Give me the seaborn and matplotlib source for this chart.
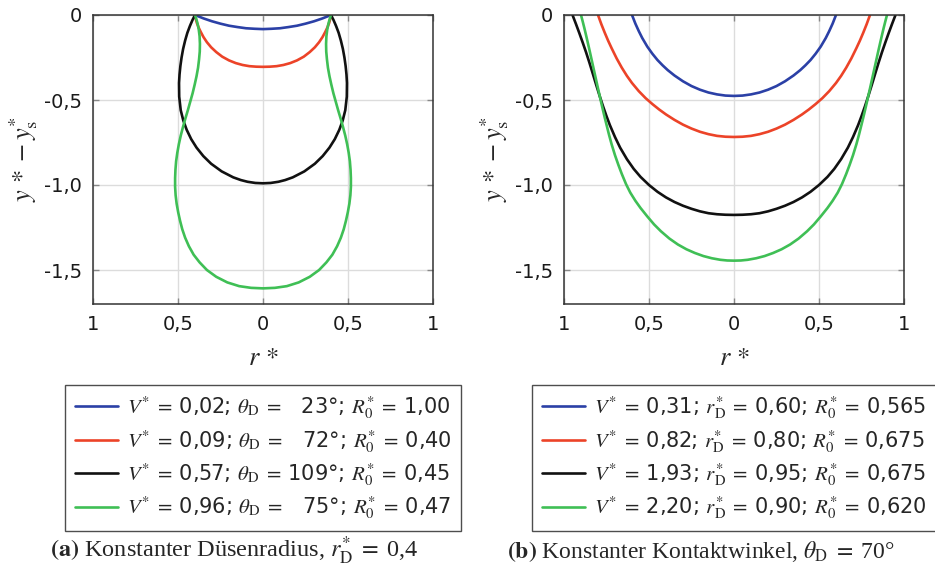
import numpy as np
import pandas as pd
import matplotlib
matplotlib.use('Agg')
import matplotlib.pyplot as plt
import seaborn as sns

sns.set_style('white')
plt.rcParams['mathtext.fontset'] = 'stix'
plt.rcParams['font.family'] = ['DejaVu Sans']

# half profiles (rim -> apex); the drops are axisymmetric
# (a) constant nozzle radius r_D = 0.4
a_blue_r = [-0.40, -0.35, -0.30, -0.25, -0.20, -0.15, -0.10, -0.05, 0.0]
a_blue_y = [0.0, -0.020, -0.037, -0.051, -0.063, -0.071, -0.078, -0.081, -0.083]
a_red_r = [-0.40, -0.395, -0.388, -0.378, -0.366, -0.35, -0.33, -0.305, -0.275, -0.24,
           -0.20, -0.16, -0.12, -0.08, -0.04, 0.0]
a_red_y = [0.0, -0.025, -0.05, -0.075, -0.10, -0.13, -0.16, -0.19, -0.218, -0.245,
           -0.267, -0.283, -0.294, -0.301, -0.304, -0.305]
a_black_r = [-0.40, -0.415, -0.43, -0.445, -0.458, -0.47, -0.479, -0.486, -0.491, -0.494,
             -0.493, -0.484, -0.469, -0.449, -0.4225, -0.391, -0.351, -0.305, -0.243,
             -0.175, -0.13, -0.091, -0.045, 0.0]
a_black_y = [0.0, -0.03, -0.065, -0.105, -0.15, -0.20, -0.25, -0.30, -0.35, -0.40,
             -0.48, -0.56, -0.62, -0.675, -0.73, -0.78, -0.83, -0.875, -0.92,
             -0.955, -0.971, -0.981, -0.988, -0.99]
a_green_r = [-0.40, -0.392, -0.385, -0.378, -0.373, -0.371, -0.372, -0.376, -0.382, -0.391,
             -0.402, -0.414, -0.428, -0.442, -0.457, -0.471, -0.484, -0.495, -0.504, -0.511,
             -0.515, -0.517, -0.517, -0.514, -0.508, -0.499, -0.488, -0.475, -0.458, -0.436,
             -0.408, -0.373, -0.33, -0.275, -0.21, -0.14, -0.07, 0.0]
a_green_y = [0.0, -0.025, -0.05, -0.085, -0.125, -0.17, -0.215, -0.26, -0.31, -0.36,
             -0.41, -0.46, -0.51, -0.56, -0.61, -0.66, -0.71, -0.76, -0.81, -0.86,
             -0.91, -0.96, -1.01, -1.06, -1.11, -1.16, -1.21, -1.26, -1.31, -1.36,
             -1.41, -1.455, -1.50, -1.54, -1.573, -1.595, -1.605, -1.608]

# (b) constant contact angle theta_D = 70 deg
b_blue_r = [-0.60, -0.58, -0.56, -0.54, -0.51, -0.48, -0.45, -0.42, -0.39, -0.35, -0.30,
            -0.25, -0.20, -0.15, -0.10, -0.05, 0.0]
b_blue_y = [0.0, -0.051, -0.095, -0.135, -0.186, -0.228, -0.265, -0.296, -0.324, -0.356, -0.39,
            -0.418, -0.4395, -0.456, -0.467, -0.474, -0.476]
b_red_r = [-0.80, -0.78, -0.76, -0.74, -0.72, -0.69, -0.66, -0.63, -0.60, -0.56, -0.52,
           -0.48, -0.44, -0.40, -0.35, -0.30, -0.25, -0.20, -0.15, -0.10, -0.05, 0.0]
b_red_y = [0.0, -0.055, -0.105, -0.152, -0.195, -0.256, -0.310, -0.358, -0.40, -0.448, -0.489,
           -0.524, -0.556, -0.585, -0.617, -0.645, -0.668, -0.687, -0.701, -0.711, -0.716, -0.7175]
b_black_r = [-0.95, -0.93, -0.91, -0.89, -0.87, -0.85, -0.83, -0.81, -0.79, -0.77, -0.75,
             -0.73, -0.70, -0.67, -0.63, -0.59, -0.55, -0.50, -0.45, -0.40, -0.35, -0.30,
             -0.25, -0.20, -0.15, -0.10, -0.05, 0.0]
b_black_y = [0.0, -0.052, -0.106, -0.162, -0.22, -0.282, -0.347, -0.413, -0.477, -0.538, -0.595,
             -0.648, -0.718, -0.78, -0.848, -0.905, -0.952, -1.0, -1.04, -1.073, -1.10, -1.122,
             -1.14, -1.155, -1.166, -1.172, -1.175, -1.176]
b_green_r = [-0.90, -0.89, -0.88, -0.87, -0.86, -0.85, -0.84, -0.83, -0.82, -0.81, -0.80,
             -0.79, -0.78, -0.77, -0.76, -0.75, -0.735, -0.72, -0.70, -0.68, -0.66, -0.635,
             -0.61, -0.58, -0.55, -0.51, -0.47, -0.43, -0.38, -0.33, -0.28, -0.23, -0.18,
             -0.13, -0.08, -0.04, 0.0]
b_green_y = [0.0, -0.038, -0.078, -0.12, -0.163, -0.207, -0.252, -0.297, -0.342, -0.387, -0.432,
             -0.476, -0.52, -0.563, -0.605, -0.645, -0.705, -0.76, -0.825, -0.882, -0.935, -0.995,
             -1.045, -1.093, -1.135, -1.185, -1.232, -1.272, -1.315, -1.35, -1.378, -1.40, -1.418,
             -1.431, -1.44, -1.444, -1.445]

fs = '\u2007'  # figure space, same width as a digit
eq = r'\;=\;'
labels_a = [rf'$V^{{*}}{eq}$0,02; $\theta_{{\mathrm{{D}}}}{eq}${fs}23°; $R_{{0}}^{{*}}{eq}$1,00',
            rf'$V^{{*}}{eq}$0,09; $\theta_{{\mathrm{{D}}}}{eq}${fs}72°; $R_{{0}}^{{*}}{eq}$0,40',
            rf'$V^{{*}}{eq}$0,57; $\theta_{{\mathrm{{D}}}}{eq}$109°; $R_{{0}}^{{*}}{eq}$0,45',
            rf'$V^{{*}}{eq}$0,96; $\theta_{{\mathrm{{D}}}}{eq}${fs}75°; $R_{{0}}^{{*}}{eq}$0,47']
labels_b = [rf'$V^{{*}}{eq}$0,31; $r_{{\mathrm{{D}}}}^{{*}}{eq}$0,60; $R_{{0}}^{{*}}{eq}$0,565',
            rf'$V^{{*}}{eq}$0,82; $r_{{\mathrm{{D}}}}^{{*}}{eq}$0,80; $R_{{0}}^{{*}}{eq}$0,675',
            rf'$V^{{*}}{eq}$1,93; $r_{{\mathrm{{D}}}}^{{*}}{eq}$0,95; $R_{{0}}^{{*}}{eq}$0,675',
            rf'$V^{{*}}{eq}$2,20; $r_{{\mathrm{{D}}}}^{{*}}{eq}$0,90; $R_{{0}}^{{*}}{eq}$0,620']
colors = ['#2b40a6', '#ec4328', '#111111', '#3fbf55']

xticks = [-1, -0.5, 0, 0.5, 1]
xticklabels = ['1', '0,5', '0', '0,5', '1']
yticks = [0, -0.5, -1.0, -1.5]
yticklabels = ['0', '-0,5', '-1,0', '-1,5']


def full_profile(r_half, y_half):
    # mirror the half profile about r = 0
    r_half = np.asarray(r_half)
    y_half = np.asarray(y_half)
    r = np.concatenate([r_half, -r_half[::-1][1:]])
    y = np.concatenate([y_half, y_half[::-1][1:]])
    return r, y


panels = {
    'a': [(a_blue_r, a_blue_y), (a_red_r, a_red_y), (a_black_r, a_black_y), (a_green_r, a_green_y)],
    'b': [(b_blue_r, b_blue_y), (b_red_r, b_red_y), (b_black_r, b_black_y), (b_green_r, b_green_y)],
}

fig = plt.figure(figsize=(9.35, 5.7), dpi=100)
ax_a = fig.add_axes([93 / 935, 1 - 304 / 570, 340 / 935, 289 / 570])
ax_b = fig.add_axes([564 / 935, 1 - 304 / 570, 340 / 935, 289 / 570])

for ax, key, labels in [(ax_a, 'a', labels_a), (ax_b, 'b', labels_b)]:
    for (rh, yh), c, lab in zip(panels[key], colors, labels):
        r, y = full_profile(rh, yh)
        sns.lineplot(x=r, y=y, sort=False, estimator=None, color=c, lw=1.9,
                     label=lab, ax=ax)
    ax.set_xlim(-1, 1)
    ax.set_ylim(-1.7, 0)
    ax.set_xticks(xticks)
    ax.set_xticklabels(xticklabels)
    ax.set_yticks(yticks)
    ax.set_yticklabels(yticklabels)
    ax.grid(True, color='#dcdcdc', lw=1)
    ax.set_axisbelow(True)
    ax.tick_params(direction='in', length=4, width=1, color='#888888',
                   labelsize=14, labelcolor='#1a1a1a', pad=8,
                   top=True, right=True, bottom=True, left=True)
    for s in ax.spines.values():
        s.set_color('#333333')
        s.set_linewidth(1.1)
    ax.set_xlabel(r'$r\,*$', fontsize=19, labelpad=8)
    ax.set_ylabel(r'$y\,*-y_{\mathrm{s}}^{*}$', fontsize=19, labelpad=3)
    leg = ax.legend(loc='upper center', bbox_to_anchor=(0.5, -0.28), fontsize=15,
                    frameon=True, fancybox=False, edgecolor='#222222',
                    handlelength=2.1, handletextpad=0.4, labelspacing=0.32,
                    borderpad=0.45, borderaxespad=0)
    leg.get_frame().set_linewidth(1.0)

fig.text(234 / 935, 1 - 551 / 570,
         r'$\mathbf{(a)}$ Konstanter Düsenradius, $r_{\mathrm{D}}^{*}\;=\;$0,4',
         ha='center', va='center', fontsize=17.5, family='Liberation Serif')
fig.text(701 / 935, 1 - 551 / 570,
         r'$\mathbf{(b)}$ Konstanter Kontaktwinkel, $\theta_{\mathrm{D}}\;=\;$70°',
         ha='center', va='center', fontsize=17, family='Liberation Serif')

fig.savefig('out.png', dpi=100)
